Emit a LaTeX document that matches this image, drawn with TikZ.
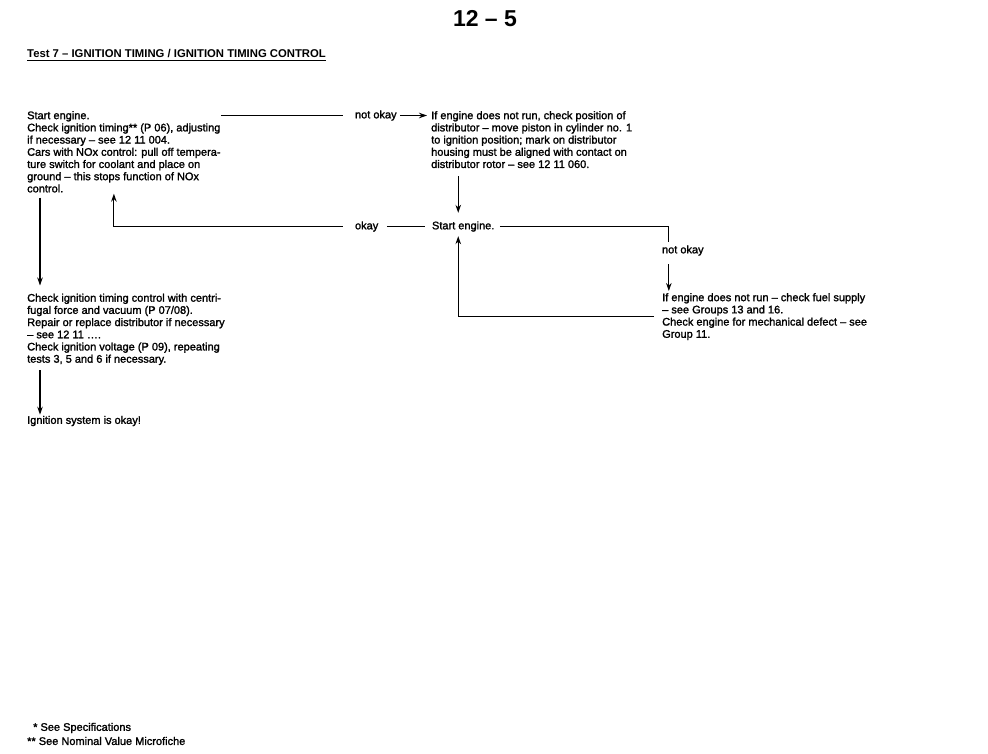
\documentclass[tikz,border=0pt]{standalone}
\usepackage{fontspec}
\setmainfont{Liberation Sans}
\newfontfamily\scanfont{Liberation Sans}[Ligatures=TeX, FakeBold=1.6]
\usetikzlibrary{arrows.meta}
\tikzstyle{block} = [inner sep=0pt, align=left, anchor=north west, font=\scanfont\fontsize{11}{12.2}\selectfont]
\tikzstyle{remark} = [anchor=west, font=\scanfont\fontsize{11}{12.2}\selectfont]
\tikzstyle{link} = [line width=1.2pt]
\tikzstyle{arrow} = [line width=1.2pt,-{Stealth[length=8pt,width=5.5pt]}]

\begin{document}
\begin{tikzpicture}[x=1pt,y=-1pt]
    \useasboundingbox (0,0) rectangle (988,754);

    % Heading
    \node (pagenum) at (485,18.5) [font=\bfseries\fontsize{23}{25}\selectfont] {12 -- 5};
    \node (title) at (27,57.5) [anchor=base west, inner sep=0pt, font=\bfseries\fontsize{11.3}{13}\selectfont] {Test 7 -- IGNITION TIMING / IGNITION TIMING CONTROL};
    \draw [line width=1.3pt] ([yshift=-3pt]title.base west) -- ([yshift=-3pt]title.base east);

    % Nodes
    \node (start) at (27,111) [block] {Start engine.\\
        Check ignition timing** (P 06), adjusting\\
        if necessary -- see 12 11 004.\\
        Cars with NOx control: pull off tempera-\\
        ture switch for coolant and place on\\
        ground -- this stops function of NOx\\
        control.};
    \node (notok) at (351.5,115.5) [remark] {not okay};
    \node (distributor) at (431,111) [block] {If engine does not run, check position of\\
        distributor -- move piston in cylinder no. 1\\
        to ignition position; mark on distributor\\
        housing must be aligned with contact on\\
        distributor rotor -- see 12 11 060.};
    \node (okay) at (351.5,226.5) [remark] {okay};
    \node (restart) at (428.5,226.5) [remark] {Start engine.};
    \node (notok2) at (658.5,250.5) [remark] {not okay};
    \node (fuel) at (662,293) [block] {If engine does not run -- check fuel supply\\
        -- see Groups 13 and 16.\\
        Check engine for mechanical defect -- see\\
        Group 11.};
    \node (control) at (27,293.5) [block] {Check ignition timing control with centri-\\
        fugal force and vacuum (P 07/08).\\
        Repair or replace distributor if necessary\\
        -- see 12 11 \dots .\\
        Check ignition voltage (P 09), repeating\\
        tests 3, 5 and 6 if necessary.};
    \node (final) at (27,421) [block, anchor=west] {Ignition system is okay!};

    % Arrows
    \draw [link, shorten >=9pt] (start.east |- notok.west) -- (notok.west);
    \draw [arrow, shorten >=4pt] (notok.east) -- (distributor.west |- notok.east);
    \draw [arrow, shorten <=8pt, shorten >=5pt] ([xshift=-5pt]restart.north |- distributor.south) -- ([xshift=-5pt]restart.north);
    \draw [arrow, shorten <=9pt, shorten >=1pt] (okay.west) -| ([xshift=-10pt]start.south);
    \draw [link, shorten <=5pt, shorten >=3.5pt] (okay.east) -- (restart.west);
    \draw [link, shorten <=2pt] (restart.east) -| ([xshift=-14pt]notok2.north);
    \draw [arrow, shorten <=5pt, shorten >=2pt] ([xshift=-14pt]notok2.south) -- ([xshift=-14pt]notok2.south |- fuel.north);
    \draw [arrow, shorten <=8pt, shorten >=1pt] (fuel.west) -| ([xshift=-5pt]restart.south);
    \draw [arrow, shorten <=5pt, shorten >=8pt] ([xshift=13pt]start.south west) -- ([xshift=13pt]control.north west);
    \draw [arrow, shorten <=5pt, shorten >=1pt] ([xshift=13pt]control.south west) -- ([xshift=13pt]final.north west);

    % Footnotes
    \node (note1) at (33,728) [remark, inner sep=0pt] {* See Specifications};
    \node (note2) at (27,741) [remark, inner sep=0pt] {** See Nominal Value Microfiche};

\end{tikzpicture}
\end{document}
